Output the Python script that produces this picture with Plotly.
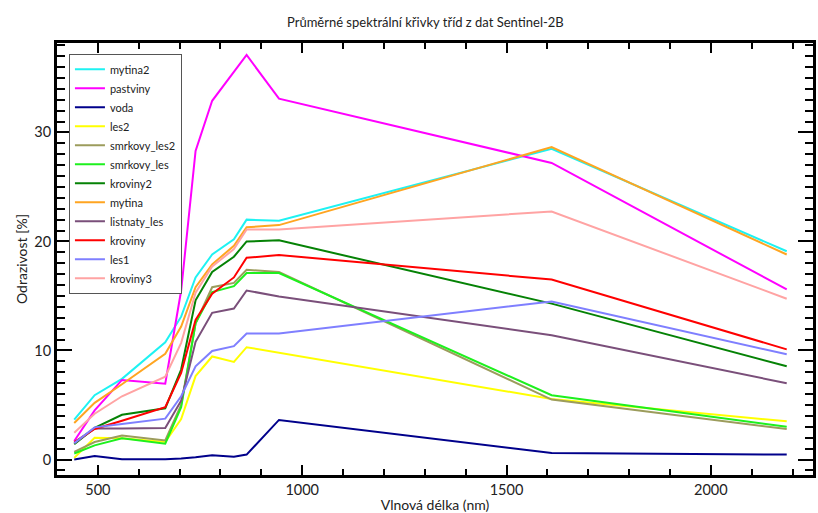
import numpy as np
import plotly.graph_objects as go

wavelengths = [442.2, 492.1, 559.0, 664.9, 703.8, 739.1, 779.7, 832.9, 864.0, 943.2, 1610.4, 2185.7]

mytina2 = [3.65, 5.9, 7.4, 10.75, 13.1, 16.7, 18.8, 20.2, 22.0, 21.9, 28.5, 19.1]
pastviny = [1.7, 4.5, 7.3, 6.95, 15.5, 28.3, 32.9, 35.5, 37.1, 33.1, 27.2, 15.6]
voda = [0.0, 0.33, 0.03, 0.03, 0.1, 0.2, 0.4, 0.25, 0.45, 3.63, 0.6, 0.45]
les2 = [0.15, 2.0, 1.95, 1.6, 3.7, 7.65, 9.45, 8.95, 10.3, 9.8, 5.55, 3.5]
smrkovy_les2 = [0.7, 1.6, 2.2, 1.75, 5.0, 12.5, 15.8, 16.2, 17.4, 17.2, 5.5, 2.8]
smrkovy_les = [0.55, 1.3, 1.95, 1.45, 4.8, 12.5, 15.35, 15.9, 17.1, 17.1, 5.9, 3.0]
kroviny2 = [1.4, 2.9, 4.1, 4.7, 8.25, 14.6, 17.2, 18.6, 20.0, 20.1, 14.3, 8.55]
mytina = [3.35, 5.2, 6.9, 9.7, 12.2, 15.8, 17.9, 19.6, 21.3, 21.5, 28.65, 18.8]
listnaty_les = [1.5, 2.85, 2.85, 2.9, 5.4, 10.8, 13.45, 13.85, 15.5, 14.95, 11.4, 7.0]
kroviny = [1.6, 2.8, 3.55, 4.8, 7.95, 12.8, 15.2, 16.7, 18.5, 18.75, 16.5, 10.1]
les1 = [1.5, 2.95, 3.25, 3.75, 5.8, 8.55, 9.95, 10.4, 11.55, 11.55, 14.5, 9.65]
kroviny3 = [2.45, 4.2, 5.8, 7.6, 10.7, 15.3, 17.7, 19.3, 21.1, 21.1, 22.75, 14.75]

series_names = ["mytina2", "pastviny", "voda", "les2", "smrkovy_les2", "smrkovy_les",
                "kroviny2", "mytina", "listnaty_les", "kroviny", "les1", "kroviny3"]
series_values = [mytina2, pastviny, voda, les2, smrkovy_les2, smrkovy_les,
                 kroviny2, mytina, listnaty_les, kroviny, les1, kroviny3]
series_colors = ["#1ef2f2", "#ff00ff", "#00008b", "#ffff00", "#9c9c5c", "#1ef01e",
                 "#058205", "#ffa521", "#7a4f7a", "#ff0000", "#7f7fff", "#ffa3a3"]

FONT = "Lato"
fig = go.Figure()

for name, vals, col in zip(series_names, series_values, series_colors):
    fig.add_trace(go.Scatter(x=wavelengths, y=vals, mode="lines", name=name,
                             line=dict(color=col, width=2)))

# visible spectrum strip under the x axis
spec_wl = np.arange(400, 701, 2)
fig.add_trace(go.Scatter(x=spec_wl, y=[-1.62] * len(spec_wl), mode="markers",
                         marker=dict(symbol="square", size=2, color=spec_wl,
                                     colorscale=[[0, "#8000ff"], [0.2, "#0060ff"], [0.4, "#00ff80"],
                                                 [0.55, "#c0ff00"], [0.7, "#ffc000"], [0.85, "#ff2000"],
                                                 [1, "#c00000"]],
                                     cmin=400, cmax=700),
                         showlegend=False, hoverinfo="skip", cliponaxis=False))

axis_common = dict(showline=True, linecolor="black", linewidth=3, mirror="allticks",
                   ticks="inside", tickcolor="black", tickwidth=2, showgrid=False,
                   zeroline=False, tickfont=dict(family=FONT, size=14.5, color="#222"))

fig.update_layout(
    width=818, height=513,
    margin=dict(l=57, r=2, t=43, b=33),
    paper_bgcolor="white", plot_bgcolor="white",
    title=dict(text="Průměrné spektrální křivky tříd z dat Sentinel-2B", x=0.52, xanchor="center",
               y=0.957, yanchor="middle", font=dict(family=FONT, size=13, color="#222")),
    legend=dict(x=0.0158, y=0.975, xanchor="left", yanchor="top", bgcolor="white",
                bordercolor="#555", borderwidth=1, font=dict(family=FONT, size=11, color="#222"),
                tracegroupgap=0, itemwidth=30),
    font=dict(family=FONT),
)
fig.update_xaxes(range=[400, 2250], tickvals=[500, 1000, 1500, 2000], ticklen=10,
                 minor=dict(dtick=100, ticks="inside", ticklen=6, tickcolor="black", tickwidth=2),
                 title=dict(text="Vlnová délka (nm)", font=dict(family=FONT, size=14, color="#222"), standoff=3),
                 **axis_common)
fig.update_yaxes(range=[-1.42, 38.2], tickvals=[0, 10, 20, 30], ticklen=15,
                 minor=dict(dtick=1, ticks="inside", ticklen=8, tickcolor="black", tickwidth=2),
                 title=dict(text="Odrazivost [%]", font=dict(family=FONT, size=14, color="#222"), standoff=4),
                 **axis_common)

fig.write_html("out.html")
